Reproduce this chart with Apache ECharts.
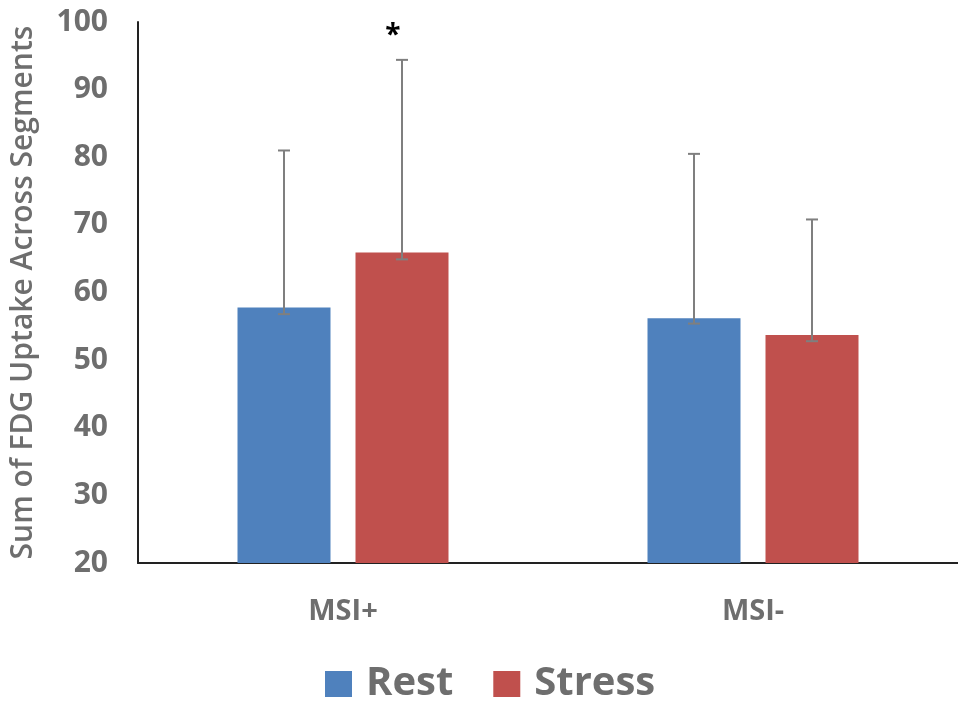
<!DOCTYPE html>
<html><head><meta charset="utf-8">
<script src="https://cdn.jsdelivr.net/npm/echarts@6/dist/echarts.min.js"></script>
<style>html,body{margin:0;padding:0;background:#fff}#c{width:958px;height:704px}</style>
</head><body><div id="c"></div>
<script>
const categories = ['MSI+', 'MSI-'];
const seriesNames = ['Rest', 'Stress'];
const restValues = [57.8, 56.2];
const stressValues = [65.9, 53.7];
const restErrLow = [56.8, 55.4];
const restErrHigh = [81.0, 80.5];
const stressErrLow = [64.9, 52.8];
const stressErrHigh = [94.4, 70.8];
const significance = ['*', ''];
const yTicks = [20, 30, 40, 50, 60, 70, 80, 90, 100];

const BAR_W = 93, GAP = 25;
const colors = ['#4f81bd', '#c0504d'];
const gray = '#6e6e6e';

function errSeries(name, low, high, sideSign, marks) {
  return {
    type: 'custom', name: name + ' err', z: 5, silent: true,
    data: categories.map((c, i) => [i, low[i], high[i]]),
    renderItem: function (params, api) {
      const idx = api.value(0);
      const off = sideSign * (BAR_W + GAP) / 2;
      const lo = api.coord([idx, api.value(1)]);
      const hi = api.coord([idx, api.value(2)]);
      const x = lo[0] + off;
      const cap = 6;
      const st = { stroke: '#7f7f7f', lineWidth: 2 };
      const children = [
        { type: 'line', shape: { x1: x, y1: lo[1], x2: x, y2: hi[1] }, style: st },
        { type: 'line', shape: { x1: x - cap, y1: hi[1], x2: x + cap, y2: hi[1] }, style: st },
        { type: 'line', shape: { x1: x - cap, y1: lo[1], x2: x + cap, y2: lo[1] }, style: st }
      ];
      if (marks && marks[params.dataIndex]) {
        children.push({ type: 'text', style: { text: marks[params.dataIndex], x: x - 9, y: hi[1] - 24,
          fill: '#000', font: 'bold 28px "Open Sans"', align: 'center', verticalAlign: 'middle' } });
      }
      return { type: 'group', children: children };
    }
  };
}

const chart = echarts.init(document.getElementById('c'), null, { renderer: 'canvas' });
chart.setOption({
  animation: false,
  color: colors,
  grid: { left: 137, right: -6, top: 22, bottom: 141 },
  legend: {
    data: seriesNames, bottom: -5, left: 320, itemWidth: 27, itemHeight: 26, itemGap: 40,
    icon: 'rect',
    textStyle: { fontFamily: 'Open Sans', fontWeight: 'bold', fontSize: 40, color: gray, padding: [0, 0, 0, 9] }
  },
  xAxis: {
    type: 'category', data: categories,
    axisLine: { lineStyle: { color: '#222', width: 2 } },
    axisTick: { show: false },
    axisLabel: { margin: 34, fontFamily: 'Open Sans', fontWeight: 'bold', fontSize: 29, color: gray }
  },
  yAxis: {
    type: 'value', min: 20, max: 100, interval: 10,
    name: 'Sum of FDG Uptake Across Segments', nameLocation: 'middle', nameRotate: 90, nameGap: 100,
    nameTextStyle: { fontFamily: 'Open Sans', fontWeight: 600, fontSize: 30, color: gray },
    axisLine: { show: true, lineStyle: { color: '#222', width: 2 } },
    axisTick: { show: false },
    splitLine: { show: false },
    axisLabel: { margin: 30, fontFamily: 'Open Sans', fontWeight: 'bold', fontSize: 30, color: gray,
      formatter: v => yTicks.includes(v) ? String(v) : '' }
  },
  series: [
    { name: 'Rest', type: 'bar', data: restValues, barWidth: BAR_W, barGap: (GAP / BAR_W * 100) + '%' },
    { name: 'Stress', type: 'bar', data: stressValues, barWidth: BAR_W, barGap: (GAP / BAR_W * 100) + '%' },
    errSeries('Rest', restErrLow, restErrHigh, -1, null),
    errSeries('Stress', stressErrLow, stressErrHigh, 1, significance)
  ]
});
</script></body></html>
